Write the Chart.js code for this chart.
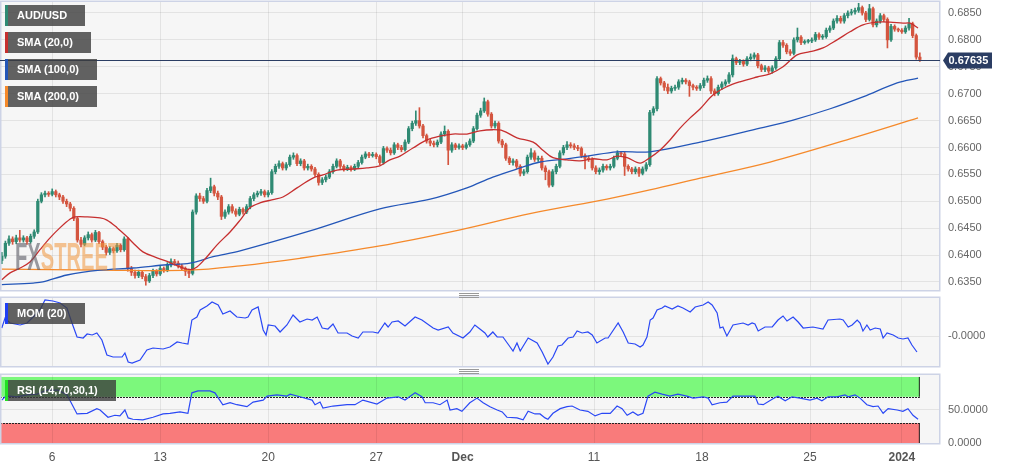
<!DOCTYPE html>
<html>
<head>
<meta charset="utf-8">
<script src="https://cdn.jsdelivr.net/npm/chart.js@4.4.1/dist/chart.umd.min.js"></script>
<style>
body{margin:0;background:#fff;width:1010px;height:469px;overflow:hidden;position:relative;font-family:"Liberation Sans",Arial,sans-serif}
canvas{position:absolute;left:0}
.tag{position:absolute;left:5px;height:21px;padding:0 18px 0 9px;background:rgba(60,60,60,0.8);color:#fff;font:bold 11px "Liberation Sans",Arial,sans-serif;line-height:21px;border-left:3px solid;z-index:3;white-space:nowrap}
.grip{position:absolute;left:459px;width:20px;height:1px;background:#999;box-shadow:0 2px 0 #999,0 4px 0 #999;z-index:3}
.wm{position:absolute;left:15px;top:238px;font:bold 38px/38px "Liberation Sans",Arial,sans-serif;transform:scaleX(0.53);transform-origin:0 0;z-index:2;white-space:nowrap}
</style>
</head>
<body>
<canvas id="main" width="1010" height="292" style="top:0"></canvas>
<canvas id="mom" width="1010" height="72" style="top:296px"></canvas>
<canvas id="rsi" width="1010" height="96" style="top:373px"></canvas>

<div class="wm"><span style="color:rgba(90,90,100,0.6)">FX</span><span style="color:rgba(240,150,60,0.55)">STREET</span></div>
<div class="tag" style="top:5px;border-color:#2f8a73">AUD/USD</div>
<div class="tag" style="top:32px;border-color:#c62f2f">SMA (20,0)</div>
<div class="tag" style="top:59px;border-color:#2356b8">SMA (100,0)</div>
<div class="tag" style="top:86px;border-color:#f5892a">SMA (200,0)</div>
<div class="tag" style="top:303px;border-color:#1f3ff5">MOM (20)</div>
<div class="tag" style="top:380px;border-color:#22e022">RSI (14,70,30,1)</div>
<div class="grip" style="top:293px"></div>
<div class="grip" style="top:369px"></div>

<script>
// 4h candles, AUD/USD, early Nov 2023 -> 2 Jan 2024
var opens = [
0.6390,0.6398,0.6422,0.6430,0.6425,0.6432,0.6428,0.6432,0.6425,0.6435,
0.6443,0.6500,0.6512,0.6515,0.6513,0.6518,0.6512,0.6508,0.6500,0.6495,
0.6487,0.6468,0.6428,0.6420,0.6432,0.6438,0.6428,0.6442,0.6425,0.6415,
0.6405,0.6412,0.6408,0.6418,0.6410,0.6430,0.6375,0.6368,0.6362,0.6368,
0.6360,0.6352,0.6362,0.6370,0.6365,0.6375,0.6372,0.6382,0.6388,0.6385,
0.6380,0.6375,0.6370,0.6366,0.6480,0.6510,0.6505,0.6500,0.6520,0.6527,
0.6515,0.6508,0.6472,0.6480,0.6490,0.6482,0.6476,0.6485,0.6480,0.6490,
0.6505,0.6512,0.6515,0.6518,0.6512,0.6516,0.6555,0.6565,0.6570,0.6562,
0.6568,0.6582,0.6585,0.6570,0.6575,0.6562,0.6565,0.6560,0.6550,0.6535,
0.6540,0.6545,0.6555,0.6565,0.6575,0.6565,0.6560,0.6563,0.6560,0.6565,
0.6572,0.6582,0.6588,0.6585,0.6587,0.6583,0.6572,0.6598,0.6595,0.6590,
0.6605,0.6600,0.6596,0.6610,0.6635,0.6645,0.6650,0.6640,0.6622,0.6612,
0.6608,0.6605,0.6610,0.6625,0.6630,0.6595,0.6605,0.6600,0.6603,0.6600,
0.6605,0.6612,0.6635,0.6660,0.6668,0.6685,0.6662,0.6640,0.6645,0.6612,
0.6605,0.6580,0.6572,0.6575,0.6565,0.6552,0.6555,0.6582,0.6590,0.6578,
0.6580,0.6562,0.6555,0.6530,0.6555,0.6565,0.6590,0.6600,0.6605,0.6603,
0.6600,0.6598,0.6585,0.6580,0.6578,0.6562,0.6555,0.6558,0.6565,0.6562,
0.6565,0.6580,0.6590,0.6588,0.6565,0.6560,0.6555,0.6560,0.6552,0.6560,
0.6568,0.6665,0.6672,0.6728,0.6720,0.6712,0.6705,0.6710,0.6712,0.6722,
0.6725,0.6722,0.6715,0.6712,0.6710,0.6715,0.6725,0.6728,0.6705,0.6700,
0.6712,0.6718,0.6722,0.6735,0.6765,0.6758,0.6760,0.6755,0.6765,0.6768,
0.6772,0.6752,0.6745,0.6748,0.6742,0.6748,0.6765,0.6795,0.6790,0.6778,
0.6775,0.6800,0.6805,0.6795,0.6797,0.6798,0.6800,0.6810,0.6805,0.6806,
0.6818,0.6822,0.6835,0.6840,0.6835,0.6845,0.6850,0.6852,0.6855,0.6860,
0.6850,0.6838,0.6858,0.6828,0.6835,0.6845,0.6838,0.6800,0.6825,0.6820,
0.6818,0.6815,0.6822,0.6830,0.6808,0.6768];
var closes = [
0.6398,0.6422,0.6430,0.6425,0.6432,0.6428,0.6432,0.6425,0.6435,0.6443,
0.6500,0.6512,0.6515,0.6513,0.6518,0.6512,0.6508,0.6500,0.6495,0.6487,
0.6468,0.6428,0.6420,0.6432,0.6438,0.6428,0.6442,0.6425,0.6415,0.6405,
0.6412,0.6408,0.6418,0.6410,0.6430,0.6375,0.6368,0.6362,0.6368,0.6360,
0.6352,0.6362,0.6370,0.6365,0.6375,0.6372,0.6382,0.6388,0.6385,0.6380,
0.6375,0.6370,0.6366,0.6480,0.6510,0.6505,0.6500,0.6520,0.6527,0.6515,
0.6508,0.6472,0.6480,0.6490,0.6482,0.6476,0.6485,0.6480,0.6490,0.6505,
0.6512,0.6515,0.6518,0.6512,0.6516,0.6555,0.6565,0.6570,0.6562,0.6568,
0.6582,0.6585,0.6570,0.6575,0.6562,0.6565,0.6560,0.6550,0.6535,0.6540,
0.6545,0.6555,0.6565,0.6575,0.6565,0.6560,0.6563,0.6560,0.6565,0.6572,
0.6582,0.6588,0.6585,0.6587,0.6583,0.6572,0.6598,0.6595,0.6590,0.6605,
0.6600,0.6596,0.6610,0.6635,0.6645,0.6650,0.6640,0.6622,0.6612,0.6608,
0.6605,0.6610,0.6625,0.6630,0.6595,0.6605,0.6600,0.6603,0.6600,0.6605,
0.6612,0.6635,0.6660,0.6668,0.6685,0.6662,0.6640,0.6645,0.6612,0.6605,
0.6580,0.6572,0.6575,0.6565,0.6552,0.6555,0.6582,0.6590,0.6578,0.6580,
0.6562,0.6555,0.6530,0.6555,0.6565,0.6590,0.6600,0.6605,0.6603,0.6600,
0.6598,0.6585,0.6580,0.6578,0.6562,0.6555,0.6558,0.6565,0.6562,0.6565,
0.6580,0.6590,0.6588,0.6565,0.6560,0.6555,0.6560,0.6552,0.6560,0.6568,
0.6665,0.6672,0.6728,0.6720,0.6712,0.6705,0.6710,0.6712,0.6722,0.6725,
0.6722,0.6715,0.6712,0.6710,0.6715,0.6725,0.6728,0.6705,0.6700,0.6712,
0.6718,0.6722,0.6735,0.6765,0.6758,0.6760,0.6755,0.6765,0.6768,0.6772,
0.6752,0.6745,0.6748,0.6742,0.6748,0.6765,0.6795,0.6790,0.6778,0.6775,
0.6800,0.6805,0.6795,0.6797,0.6798,0.6800,0.6810,0.6805,0.6806,0.6818,
0.6822,0.6835,0.6840,0.6835,0.6845,0.6850,0.6852,0.6855,0.6860,0.6850,
0.6838,0.6858,0.6828,0.6835,0.6845,0.6838,0.6800,0.6825,0.6820,0.6818,
0.6815,0.6822,0.6830,0.6808,0.6768,0.67635];
var highs = [
0.6405,0.6426,0.6436,0.6434,0.6437,0.6446,0.6436,0.6435,0.6439,0.6447,
0.6504,0.6516,0.6519,0.6518,0.6523,0.6521,0.6515,0.6511,0.6504,0.6498,
0.6490,0.6471,0.6433,0.6436,0.6443,0.6441,0.6446,0.6444,0.6428,0.6418,
0.6416,0.6415,0.6422,0.6421,0.6434,0.6433,0.6379,0.6372,0.6372,0.6371,
0.6364,0.6366,0.6374,0.6373,0.6379,0.6378,0.6386,0.6393,0.6392,0.6389,
0.6383,0.6378,0.6374,0.6484,0.6514,0.6515,0.6509,0.6524,0.6543,0.6530,
0.6519,0.6511,0.6484,0.6494,0.6494,0.6486,0.6489,0.6488,0.6494,0.6509,
0.6516,0.6519,0.6522,0.6521,0.6520,0.6559,0.6569,0.6575,0.6573,0.6572,
0.6586,0.6590,0.6588,0.6579,0.6578,0.6569,0.6568,0.6563,0.6553,0.6544,
0.6549,0.6559,0.6569,0.6579,0.6578,0.6568,0.6567,0.6566,0.6569,0.6576,
0.6586,0.6592,0.6591,0.6591,0.6590,0.6586,0.6602,0.6601,0.6599,0.6609,
0.6608,0.6604,0.6614,0.6639,0.6649,0.6668,0.6674,0.6643,0.6625,0.6616,
0.6612,0.6614,0.6629,0.6640,0.6633,0.6609,0.6608,0.6607,0.6606,0.6609,
0.6616,0.6639,0.6664,0.6673,0.6692,0.6688,0.6665,0.6649,0.6648,0.6615,
0.6608,0.6583,0.6579,0.6578,0.6568,0.6559,0.6586,0.6598,0.6594,0.6584,
0.6584,0.6566,0.6558,0.6559,0.6569,0.6594,0.6604,0.6611,0.6609,0.6607,
0.6604,0.6601,0.6588,0.6584,0.6581,0.6566,0.6562,0.6569,0.6568,0.6569,
0.6584,0.6594,0.6593,0.6591,0.6568,0.6563,0.6564,0.6563,0.6564,0.6572,
0.6669,0.6676,0.6732,0.6731,0.6723,0.6718,0.6714,0.6716,0.6726,0.6729,
0.6728,0.6725,0.6718,0.6715,0.6719,0.6729,0.6733,0.6732,0.6709,0.6716,
0.6722,0.6726,0.6739,0.6772,0.6768,0.6764,0.6763,0.6769,0.6774,0.6776,
0.6775,0.6755,0.6752,0.6751,0.6752,0.6769,0.6799,0.6799,0.6793,0.6782,
0.6804,0.6822,0.6808,0.6800,0.6801,0.6804,0.6814,0.6813,0.6810,0.6822,
0.6826,0.6839,0.6845,0.6844,0.6849,0.6854,0.6857,0.6859,0.6868,0.6863,
0.6853,0.6866,0.6861,0.6839,0.6849,0.6848,0.6841,0.6829,0.6828,0.6822,
0.6821,0.6826,0.6840,0.6833,0.6811,0.6776];
var lows = [
0.6384,0.6394,0.6418,0.6420,0.6421,0.6424,0.6424,0.6420,0.6422,0.6431,
0.6440,0.6497,0.6508,0.6509,0.6510,0.6508,0.6503,0.6496,0.6490,0.6482,
0.6464,0.6424,0.6415,0.6417,0.6428,0.6424,0.6425,0.6421,0.6410,0.6400,
0.6401,0.6404,0.6405,0.6406,0.6407,0.6370,0.6362,0.6357,0.6358,0.6356,
0.6344,0.6349,0.6358,0.6361,0.6362,0.6368,0.6369,0.6378,0.6381,0.6376,
0.6371,0.6362,0.6358,0.6363,0.6476,0.6500,0.6496,0.6497,0.6516,0.6510,
0.6503,0.6466,0.6468,0.6476,0.6478,0.6472,0.6473,0.6476,0.6477,0.6486,
0.6501,0.6508,0.6511,0.6508,0.6508,0.6513,0.6551,0.6561,0.6558,0.6558,
0.6565,0.6578,0.6566,0.6566,0.6558,0.6558,0.6556,0.6546,0.6530,0.6531,
0.6536,0.6542,0.6552,0.6562,0.6561,0.6556,0.6557,0.6556,0.6557,0.6562,
0.6569,0.6579,0.6581,0.6582,0.6579,0.6568,0.6569,0.6591,0.6586,0.6587,
0.6596,0.6592,0.6593,0.6607,0.6631,0.6641,0.6636,0.6618,0.6608,0.6603,
0.6601,0.6601,0.6607,0.6621,0.6568,0.6591,0.6596,0.6597,0.6596,0.6597,
0.6602,0.6609,0.6632,0.6656,0.6665,0.6658,0.6636,0.6636,0.6608,0.6600,
0.6576,0.6568,0.6567,0.6561,0.6547,0.6548,0.6552,0.6578,0.6574,0.6574,
0.6558,0.6540,0.6526,0.6527,0.6551,0.6562,0.6586,0.6596,0.6599,0.6596,
0.6594,0.6581,0.6560,0.6574,0.6558,0.6551,0.6550,0.6554,0.6558,0.6558,
0.6562,0.6577,0.6584,0.6548,0.6556,0.6551,0.6551,0.6546,0.6549,0.6556,
0.6565,0.6660,0.6668,0.6716,0.6706,0.6700,0.6701,0.6706,0.6708,0.6718,
0.6718,0.6695,0.6707,0.6706,0.6706,0.6711,0.6721,0.6700,0.6696,0.6697,
0.6708,0.6714,0.6719,0.6731,0.6754,0.6754,0.6751,0.6752,0.6761,0.6764,
0.6748,0.6741,0.6741,0.6738,0.6738,0.6745,0.6762,0.6786,0.6774,0.6771,
0.6772,0.6796,0.6791,0.6792,0.6794,0.6795,0.6797,0.6801,0.6801,0.6803,
0.6814,0.6819,0.6831,0.6831,0.6831,0.6841,0.6846,0.6848,0.6851,0.6846,
0.6834,0.6835,0.6824,0.6824,0.6831,0.6834,0.6785,0.6797,0.6816,0.6815,
0.6812,0.6812,0.6818,0.6804,0.6764,0.6760];

// moving averages, read at candle positions
var sma20X = [0,2.3,5.1,7.8,10.6,13.4,16.2,19,20.3,23.7,27.3,29.2,32,34.8,36.4,39.2,43.1,46.7,49.5,52.3,
  54.2,57,59.8,63.4,66.2,68.9,71.7,75.3,78.1,82,86.4,89.2,93.1,97.6,101.4,105,107.8,110.6,114.2,118.1,
  121.7,125.3,129.2,132.8,136.4,139.2,143.1,147.6,150.3,153.1,157,160.6,164.2,168.1,170.9,173.7,177.3,180,182.8,185.6,
  188.4,191.2,194,197.6,201.4,205,209.8,213.4,217,220.9,224.5,228.1,232,235.6,239.2,243.1,246.7,250.3,252.3,254.5];
var sma20Y = [0.6354,0.6367,0.6376,0.6387,0.6410,0.6432,0.6451,0.6467,0.6471,0.6471,0.6469,0.6465,0.6451,0.6434,0.6423,0.6406,0.6395,0.6386,0.6378,0.6373,
  0.6378,0.6397,0.6419,0.6443,0.6465,0.6488,0.6497,0.6503,0.6508,0.6525,0.6543,0.6549,0.6558,0.6560,0.6562,0.6566,0.6577,0.6584,0.6599,0.6614,
  0.6621,0.6625,0.6625,0.6631,0.6633,0.6631,0.6618,0.6610,0.6595,0.6581,0.6577,0.6575,0.6579,0.6577,0.6584,0.6581,0.6571,0.6581,0.6595,0.6614,
  0.6636,0.6655,0.6672,0.6698,0.6713,0.6722,0.6731,0.6737,0.6750,0.6772,0.6778,0.6785,0.6800,0.6815,0.6828,0.6833,0.6833,0.6831,0.6831,0.6822];
var sma100X = [0,8.7,11.4,18.1,27.3,36.4,45.9,52.3,58.7,66.2,85.6,105,119,129.2,136.4,144,149.5,157,162.6,170.9,180,194,210.6,219.8,230.1,239.2,248.7,254.5];
var sma100Y = [0.6345,0.6348,0.6350,0.6363,0.6372,0.6376,0.6382,0.6385,0.6397,0.6408,0.6445,0.6486,0.6504,0.6525,0.6545,0.6562,0.6573,0.6579,0.6584,0.6592,0.6592,0.6610,0.6636,0.6651,0.6672,0.6694,0.6720,0.6729];
var sma200X = [0,27.3,52.3,66.2,82.8,105,127.3,146.7,168.1,180,194,213.4,235.6,254.5];
var sma200Y = [0.6374,0.6372,0.6372,0.6380,0.6394,0.6417,0.6447,0.6477,0.6504,0.6521,0.6543,0.6573,0.6616,0.6655];

// momentum (20)
var momX = [0,0.9,2.3,5.1,7,8.7,10.6,12,14.2,16.2,
  18.1,19.5,20.9,22.6,23.7,25.1,26.4,27.8,29.2,30.9,
  33.4,34.2,35.1,36.2,38.4,40.3,42,44.8,46.7,48.7,
  50.1,51.7,52.8,54.2,55.1,57,58.4,60.1,61.4,63.4,
  65.3,67.6,68.4,69.5,71.2,72.6,73.4,74,75.9,77.3,
  79.2,80.9,82.8,84.8,86.2,87.6,89,90.6,92,93.4,
  95.9,97.3,99,100.3,103.1,104.5,106.4,107.3,108.4,110.1,
  112,114.8,116.7,119.8,121.2,124,125.3,128.1,130,131.4,
  132.8,134.2,135,136.4,137.6,139.2,141.2,142,143.1,144,
  146.2,148.7,150.1,151.7,153.1,154.5,155.6,157.3,158.7,159.8,
  161.2,162.8,164,165.3,167.6,168.4,171.2,172.6,174,175.9,
  177.3,178.1,179.2,180.1,180.9,182,183.4,184.2,186.2,187.8,
  189.2,191.2,192.6,194.8,196.2,197.3,198.7,199.5,200.3,201.4,
  203.1,205.9,207.3,208.4,209.2,210.1,212,214,215.6,217,
  218.1,219.8,221.2,222.6,225.3,228.1,229.5,232.8,233.7,235.1,
  236.2,237.6,238.4,239.2,240.3,241.2,242.6,244,244.8,245.9,
  247.6,249,250.3,251.7,252.8,254.2];
var momY = [0.0032,0.0072,0.0052,0.0044,0.0052,0.0076,0.0104,0.0144,0.0140,0.0132,
  0.0112,0.0052,-0.0004,-0.0008,0.0008,0.0004,0.0012,-0.0016,-0.0076,-0.0084,
  -0.0084,-0.0068,-0.0104,-0.0108,-0.0096,-0.0056,-0.0048,-0.0052,-0.0044,-0.0024,
  -0.0028,-0.0032,0.0064,0.0076,0.0104,0.0120,0.0136,0.0124,0.0088,0.0100,
  0.0076,0.0072,0.0076,0.0104,0.0116,0.0024,0.0004,0.0044,0.0040,0.0016,
  0.0044,0.0084,0.0056,0.0068,0.0064,0.0076,0.0032,0.0028,0.0048,0.0012,
  0.0012,0.0000,-0.0008,0.0016,0.0016,0.0012,0.0052,0.0036,0.0056,0.0060,
  0.0040,0.0076,0.0064,0.0032,0.0024,0.0036,0.0012,-0.0008,0.0016,0.0044,
  0.0028,0.0012,-0.0004,0.0016,-0.0004,-0.0004,-0.0044,-0.0060,-0.0028,-0.0060,
  -0.0008,-0.0028,-0.0064,-0.0112,-0.0084,-0.0040,-0.0036,-0.0008,-0.0004,0.0020,
  0.0012,0.0016,0.0004,-0.0028,-0.0008,-0.0008,0.0052,0.0016,-0.0028,-0.0032,
  -0.0044,-0.0036,-0.0004,0.0064,0.0072,0.0104,0.0112,0.0120,0.0108,0.0120,
  0.0112,0.0096,0.0116,0.0124,0.0136,0.0124,0.0092,0.0032,0.0036,0.0000,
  0.0044,0.0052,0.0044,0.0052,0.0048,0.0020,0.0036,0.0036,0.0064,0.0080,
  0.0060,0.0076,0.0056,0.0032,0.0036,0.0028,0.0064,0.0068,0.0064,0.0036,
  0.0044,0.0064,0.0052,0.0020,0.0044,0.0024,0.0032,0.0028,-0.0008,0.0012,
  0.0004,-0.0008,-0.0012,-0.0008,-0.0036,-0.0064];

// RSI (14)
var rsiX = [0,0.9,2.3,4.2,7,9.8,12.6,15.6,18.1,20.9,
  23.7,26.4,27.3,29.5,31.4,32.8,34.2,35.1,36.4,39.2,
  42,44.8,46.7,49.5,51.7,52.8,54.5,57.8,59.2,61.4,
  63.4,65.3,68.1,69.8,72.6,73.7,76.4,79.2,80.1,82.8,
  86.2,87,88.4,89.2,92,95.9,98.1,100.3,104.2,107,
  110.1,112,114.8,116.7,117.6,119.8,121.7,123.7,124.5,126.4,
  127.8,130,132,133.7,135.6,137.6,139,140.3,143.1,144.8,
  146.2,148.1,149.5,150.9,151.7,153.1,155.1,157,158.4,160.6,
  162.8,164.8,166.7,169,170.9,172.3,173.7,175.3,176.7,178.1,
  179.5,181.4,183.4,185.6,187.8,190.3,192,194.8,196.2,197.3,
  199.5,201.4,203.1,207,209.2,210.1,211.5,214.2,215.6,217.6,
  219.5,221.7,224.5,226.4,227.8,229.5,232,234.2,235.1,237,
  238.4,240.3,242,243.4,244.8,246.2,248.7,250.3,251.7,253.1,
  254.5];
var rsiY = [65,70,71,70,73,74,80,80,73,44,
  45,52,50,39,42,41,50,38,36,35,
  39,44,45,47,45,76,79,79,76,58,
  61,58,55,62,65,71,73,71,74,70,
  65,58,62,53,56,58,58,65,59,68,
  70,65,76,70,61,61,58,65,50,52,
  48,61,68,61,55,50,47,39,38,35,
  48,44,44,38,36,45,52,55,56,50,
  48,41,45,45,56,52,42,47,42,45,
  71,77,74,71,74,71,68,70,68,58,
  61,62,71,71,71,59,58,67,71,64,
  70,68,65,68,64,70,70,73,70,73,
  68,58,55,56,45,52,50,48,52,42,
  36];
var rsiUpper = [70, 100];
var rsiLower = [0, 30];

// axes
var dayTicks = [14, 44, 74, 104, 128, 164.5, 194.5, 224.5, 250];
var dayLabels = ['6', '13', '20', '27', 'Dec', '11', '18', '25', '2024'];
var dayBold = [false, false, false, false, true, false, false, false, true];
var priceTicks = [0.6350, 0.6400, 0.6450, 0.6500, 0.6550, 0.6600, 0.6650, 0.6700, 0.6750, 0.6800, 0.6850];
var momTicks = [0];
var momLabels = ['-0.0000'];
var rsiTicks = [0, 50];
var rsiLabels = ['0.0000', '50.0000'];

var GREEN = '#2f8a73', RED = '#d4553f';
var FONT = '"Liberation Sans", Arial, sans-serif';
var gridColor = 'rgba(0,0,0,0.075)';

function pts(xs, ys){
	return xs.map(function(x, i){ return {x: x, y: ys[i]}; });
}

var panel = {
	id: 'panel',
	beforeDraw: function(chart){
		var a = chart.chartArea, ctx = chart.ctx;
		ctx.save();
		ctx.fillStyle = '#f6f6f6';
		ctx.fillRect(a.left, a.top, a.right - a.left, a.bottom - a.top);
		ctx.restore();
	},
	afterDraw: function(chart){
		var a = chart.chartArea, ctx = chart.ctx;
		ctx.save();
		ctx.strokeStyle = '#cdd3e6';
		ctx.lineWidth = 1.5;
		ctx.strokeRect(a.left + 0.75, a.top - 0.75, a.right - a.left - 1, a.bottom - a.top + 1.5);
		ctx.restore();
	}
};

var lastPrice = {
	id: 'lastPrice',
	afterDraw: function(chart){
		var a = chart.chartArea, ctx = chart.ctx;
		var v = closes[closes.length - 1];
		var py = Math.round(chart.scales.y.getPixelForValue(v)) + 0.5;
		ctx.save();
		ctx.strokeStyle = '#2b3d63';
		ctx.lineWidth = 1;
		ctx.beginPath(); ctx.moveTo(a.left, py); ctx.lineTo(a.right, py); ctx.stroke();
		ctx.fillStyle = '#2b3d63';
		ctx.beginPath();
		ctx.moveTo(a.right + 3, py);
		ctx.lineTo(a.right + 8, py - 8);
		ctx.lineTo(a.right + 52, py - 8);
		ctx.lineTo(a.right + 52, py + 8);
		ctx.lineTo(a.right + 8, py + 8);
		ctx.closePath();
		ctx.fill();
		ctx.fillStyle = '#fff';
		ctx.font = 'bold 11px ' + FONT;
		ctx.textBaseline = 'middle';
		ctx.fillText(v.toFixed(5), a.right + 8.5, py + 0.5);
		ctx.restore();
	}
};

var rsiBands = {
	id: 'rsiBands',
	beforeDraw: function(chart){
		var ctx = chart.ctx, x = chart.scales.x, y = chart.scales.y;
		var l = x.getPixelForValue(-0.5), r = x.getPixelForValue(closes.length - 1);
		function band(lo, hi, color, edge){
			var t = y.getPixelForValue(hi), b = y.getPixelForValue(lo);
			ctx.fillStyle = color;
			ctx.fillRect(l, t, r - l, b - t);
			ctx.strokeStyle = '#222';
			ctx.lineWidth = 1;
			ctx.setLineDash([]);
			ctx.beginPath();
			ctx.moveTo(l + 0.5, t); ctx.lineTo(l + 0.5, b);
			ctx.moveTo(r - 0.5, t); ctx.lineTo(r - 0.5, b);
			ctx.stroke();
			var ey = Math.round(y.getPixelForValue(edge)) + 0.5;
			ctx.setLineDash([2, 1]);
			ctx.beginPath(); ctx.moveTo(l, ey); ctx.lineTo(r, ey); ctx.stroke();
			ctx.setLineDash([]);
		}
		ctx.save();
		band(rsiUpper[0], rsiUpper[1], '#7cf87c', rsiUpper[0]);
		band(rsiLower[0], rsiLower[1], '#f97b7b', rsiLower[1]);
		ctx.restore();
	}
};

function xAxis(showLabels){
	return {
		type: 'linear', min: -0.5, max: 260.6, offset: false,
		grid: {color: gridColor, drawTicks: false, offset: false},
		border: {display: false},
		afterBuildTicks: function(s){ s.ticks = dayTicks.map(function(v){ return {value: v}; }); },
		afterFit: function(s){
			s.height = showLabels ? 26 : 0;
			s.paddingLeft = 0; s.paddingRight = 0;
		},
		ticks: {
			display: showLabels, autoSkip: false, maxRotation: 0, padding: 7, color: '#555',
			font: function(c){ return {family: FONT, size: 12, weight: dayBold[c.index] ? 'bold' : 'normal'}; },
			callback: function(v, i){ return dayLabels[i]; }
		}
	};
}

function yAxis(min, max, ticks, labels){
	return {
		type: 'linear', position: 'right', min: min, max: max,
		grid: {color: gridColor, drawTicks: false},
		border: {display: false},
		afterBuildTicks: function(s){ s.ticks = ticks.map(function(v){ return {value: v}; }); },
		afterFit: function(s){
			s.width = 70;
			s.paddingTop = 0; s.paddingBottom = 0;
		},
		ticks: {
			padding: 8, color: '#666', font: {family: FONT, size: 11},
			callback: function(v, i){ return labels ? labels[i] : v.toFixed(4); }
		}
	};
}

var common = {
	responsive: false,
	maintainAspectRatio: false,
	devicePixelRatio: 1,
	animation: false,
	events: [],
	plugins: {legend: {display: false}, tooltip: {enabled: false}}
};

var colors = closes.map(function(c, i){ return c >= opens[i] ? GREEN : RED; });

new Chart(document.getElementById('main'), {
	type: 'bar',
	data: {
		datasets: [
			{type: 'line', label: 'SMA (20,0)', data: pts(sma20X, sma20Y), borderColor: '#c62f2f', borderWidth: 1.3, pointRadius: 0, tension: 0.35},
			{type: 'line', label: 'SMA (100,0)', data: pts(sma100X, sma100Y), borderColor: '#2356b8', borderWidth: 1.3, pointRadius: 0, tension: 0.35},
			{type: 'line', label: 'SMA (200,0)', data: pts(sma200X, sma200Y), borderColor: '#f5892a', borderWidth: 1.3, pointRadius: 0, tension: 0.35},
			{label: 'body', data: closes.map(function(c, i){ return {x: i, y: [opens[i], c]}; }),
				backgroundColor: colors, barThickness: 2.6, minBarLength: 1, grouped: false, borderWidth: 0},
			{label: 'wick', data: closes.map(function(c, i){ return {x: i, y: [lows[i], highs[i]]}; }),
				backgroundColor: colors, barThickness: 1, grouped: false, borderWidth: 0}
		]
	},
	options: Object.assign({}, common, {
		layout: {padding: {top: 2, bottom: 2, left: 0, right: 0}},
		scales: {
			x: xAxis(false),
			y: yAxis(0.63351, 0.68704, priceTicks, null)
		}
	}),
	plugins: [panel, lastPrice]
});

new Chart(document.getElementById('mom'), {
	type: 'line',
	data: {datasets: [{label: 'MOM (20)', data: pts(momX, momY), borderColor: '#2a48f5', borderWidth: 1.2, pointRadius: 0}]},
	options: Object.assign({}, common, {
		layout: {padding: {top: 2, bottom: 2, left: 0, right: 0}},
		scales: {
			x: xAxis(false),
			y: yAxis(-0.012, 0.0152, momTicks, momLabels)
		}
	}),
	plugins: [panel]
});

new Chart(document.getElementById('rsi'), {
	type: 'line',
	data: {datasets: [{label: 'RSI (14,70,30,1)', data: pts(rsiX, rsiY), borderColor: '#2a48f5', borderWidth: 1.2, pointRadius: 0}]},
	options: Object.assign({}, common, {
		layout: {padding: {top: 2, bottom: 0, left: 0, right: 0}},
		scales: {
			x: xAxis(true),
			y: yAxis(0, 103, rsiTicks, rsiLabels)
		}
	}),
	plugins: [panel, rsiBands]
});
</script>
</body>
</html>
